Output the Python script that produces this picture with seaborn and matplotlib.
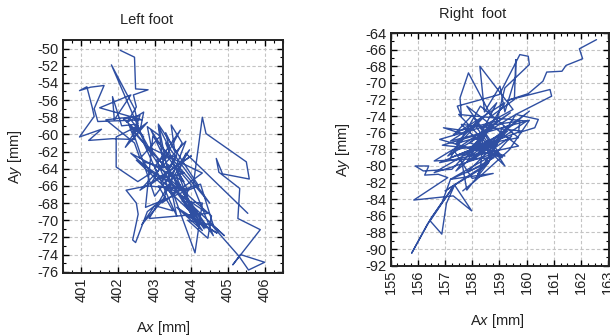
import numpy as np
import pandas as pd
import matplotlib
matplotlib.use("Agg")
import matplotlib.pyplot as plt
import seaborn as sns
from matplotlib.ticker import MultipleLocator

sns.set_theme(style="white")
plt.rcParams['font.family'] = ['Liberation Sans', 'DejaVu Sans']
plt.rcParams['axes.unicode_minus'] = False
plt.rcParams['mathtext.fontset'] = 'custom'
plt.rcParams['mathtext.rm'] = 'Liberation Sans'
plt.rcParams['mathtext.it'] = 'Liberation Sans:italic'

# ---- data: left foot trajectory ----
left_x_a = [402.06, 402.45, 402.48, 402.82, 402.42, 402.5, 402.25, 402.7, 402.6, 401.82,
            402.45, 402.55, 402.1, 401.85, 401.9, 402.35, 401.5, 402.65, 401.45, 401.35,
            401.62, 401.25, 400.95, 401.15, 401.3, 401.35, 400.95, 401.55, 401.2, 401.85,
            402.45, 402.3, 402.75, 402.55, 402.95, 402.8, 403.15, 402.6, 402.45, 401.67,
            402.3, 402.7, 402.15, 402.6, 402.4, 402.8, 402.2, 402.55]
left_y_a = [-50.2, -51.0, -54.7, -54.8, -55.4, -56.8, -58.6, -57.4, -59.6, -51.9,
            -57.0, -58.8, -59.0, -55.6, -58.3, -55.4, -56.9, -58.3, -58.5, -57.0,
            -54.3, -54.5, -54.9, -54.45, -56.9, -57.9, -60.3, -59.4, -60.7, -60.5,
            -60.6, -58.9, -61.2, -59.3, -62.4, -59.1, -60.2, -62.8, -61.0, -58.3,
            -58.0, -60.3, -58.2, -57.8, -59.9, -58.6, -61.5, -59.0]
left_x_b = [401.95, 401.95, 402.54, 402.9, 402.7, 403.25, 403.1, 403.4, 403.3, 403.55,
            403.45, 403.75, 403.2, 403.6, 403.05, 403.45, 403.35, 403.8, 403.15, 403.0,
            403.7, 402.9, 404.0, 402.6, 403.85, 403.2, 404.3, 402.85, 403.9, 402.5,
            404.1, 403.3, 404.5, 402.95, 402.75, 404.2, 403.1, 403.6, 402.7, 404.35,
            403.5, 402.4, 403.0, 403.95, 402.85, 404.45, 403.4, 402.35, 403.8, 402.9,
            403.65, 402.8]
left_y_b = [-60.3, -63.8, -65.5, -64.5, -63.2, -63.9, -59.0, -61.6, -59.8, -62.0,
            -58.9, -61.0, -65.5, -62.5, -63.0, -67.0, -63.5, -64.5, -65.2, -63.8,
            -59.5, -65.8, -62.5, -66.5, -60.8, -68.0, -64.5, -61.5, -67.0, -63.0,
            -69.5, -61.0, -68.0, -60.2, -68.5, -66.0, -58.8, -69.5, -61.0, -71.0,
            -64.8, -59.6, -67.2, -61.8, -69.8, -69.2, -66.2, -62.2, -65.5, -59.5,
            -66.3, -66.0]
left_x_c = [402.22, 402.5, 402.55, 402.4, 402.48, 402.8, 403.3, 402.65, 403.0, 403.5,
            403.1, 403.9, 403.55, 404.0, 403.75, 404.3, 404.1, 403.5, 404.25, 404.6,
            403.9, 404.45, 404.55, 403.3, 404.3, 403.6, 404.7, 403.8, 404.4, 403.7,
            404.6, 404.05, 404.3, 404.4, 405.5, 405.58, 404.85, 404.68, 404.75, 405.32,
            405.27, 405.88, 405.13, 405.34, 406.0, 405.56, 405.3, 404.5, 404.9, 403.7,
            404.2, 403.6, 403.85, 405.54]
left_y_c = [-66.5, -68.0, -69.3, -72.3, -72.6, -69.0, -67.3, -70.5, -68.3, -68.9,
            -66.0, -66.5, -63.6, -65.9, -67.8, -68.0, -73.8, -66.8, -65.8, -70.6,
            -70.0, -72.1, -69.5, -64.8, -71.2, -68.5, -71.5, -69.2, -70.9, -66.2,
            -71.8, -66.0, -58.0, -59.9, -63.2, -65.2, -64.6, -62.8, -64.4, -66.3,
            -69.8, -71.1, -75.2, -74.0, -74.9, -75.8, -74.2, -70.3, -71.8, -67.0,
            -70.8, -65.0, -62.2, -69.2]

# ---- data: right foot trajectory ----
right_x_a = [162.57, 161.94, 162.06, 161.45, 161.3, 160.74, 160.6, 160.06, 159.3, 160.86,
             160.92, 159.6, 160.43, 160.3, 159.7, 159.75, 158.4, 159.5, 158.28, 158.45,
             159.02, 159.2, 159.6, 159.6, 159.55, 158.7, 157.86, 157.55, 157.6, 157.45,
             159.0, 159.75, 160.06, 160.1, 159.2, 158.9, 157.6, 156.94, 157.7, 158.3,
             157.4, 158.5, 157.9, 158.75, 158.2, 159.3, 158.0, 158.9, 157.5, 158.6,
             159.2]
right_y_a = [-64.8, -65.9, -67.1, -67.9, -68.6, -68.7, -69.8, -71.3, -72.1, -70.8,
             -71.6, -73.8, -74.4, -75.4, -76.0, -74.6, -75.2, -73.2, -68.0, -73.5,
             -70.4, -73.5, -69.2, -67.2, -72.0, -74.0, -68.8, -71.8, -74.0, -72.8,
             -71.4, -66.6, -66.8, -67.8, -70.6, -74.6, -75.7, -75.4, -76.2, -74.3,
             -77.3, -76.3, -78.0, -75.0, -77.6, -75.8, -79.3, -77.2, -78.7, -78.5,
             -78.8]
right_x_b = [157.9, 159.4, 157.4, 159.7, 158.3, 157.2, 159.8, 157.6, 159.2, 158.0,
             157.3, 159.2, 157.8, 160.0, 157.5, 158.8, 156.9, 159.3, 158.2, 159.6,
             157.1, 158.9, 157.9, 160.1, 157.4, 158.7, 156.8, 159.1, 157.8, 159.7,
             156.8, 158.4, 156.6, 158.9, 157.2, 158.6, 157.0, 158.3]
right_y_b = [-77.2, -73.6, -78.0, -76.6, -72.8, -79.0, -75.8, -75.0, -80.0, -73.9,
             -76.3, -72.4, -79.5, -74.6, -73.8, -78.2, -77.5, -75.2, -81.0, -73.8,
             -78.8, -72.4, -78.9, -73.4, -80.6, -75.0, -76.8, -79.0, -72.8, -77.6,
             -79.6, -77.4, -80.8, -78.4, -81.6, -79.6, -83.0, -80.4]
right_x_c = [158.4, 157.2, 158.1, 158.75, 159.45, 158.3, 159.0, 157.8, 158.8,
             156.6, 157.3, 158.0, 158.77, 157.2, 156.9, 156.35, 155.77, 156.5, 157.3,
             156.45, 156.88, 157.05, 157.35, 157.98, 157.3, 155.85, 157.1, 156.75, 156.25,
             156.4, 155.9, 156.2, 157.25, 157.6, 157.8, 158.6, 159.1, 160.1, 159.35,
             158.1, 157.65]
right_y_c = [-76.0, -77.0, -75.1, -78.0, -76.4, -80.5, -76.9, -80.8, -79.0,
             -79.4, -78.0, -81.5, -80.9, -81.6, -84.3, -87.0, -90.5, -86.2, -82.5,
             -86.6, -88.2, -84.5, -82.3, -85.4, -83.6, -84.1, -81.4, -81.0, -81.1,
             -80.0, -80.0, -80.6, -80.4, -79.2, -82.9, -79.6, -75.4, -74.5, -78.1,
             -81.8, -83.0]

left_xticks = [401, 402, 403, 404, 405, 406]
left_yticks = list(range(-76, -49, 2))
right_xticks = list(range(155, 164))
right_yticks = list(range(-92, -63, 2))

LINE = '#2f4fa2'

fig = plt.figure(figsize=(6.10, 3.36), dpi=100)
fig.patch.set_facecolor('white')

axL = fig.add_axes([63/610, 1-273/336, 220/610, 233/336])
axR = fig.add_axes([390.7/610, 1-265.7/336, 218.3/610, 232.7/336])

dfL = pd.DataFrame({'x': left_x_a + left_x_b + left_x_c,
                    'y': left_y_a + left_y_b + left_y_c})
dfR = pd.DataFrame({'x': right_x_a + right_x_b + right_x_c,
                    'y': right_y_a + right_y_b + right_y_c})
sns.lineplot(data=dfL, x='x', y='y', sort=False, estimator=None, ax=axL,
             color=LINE, lw=1.0)
sns.lineplot(data=dfR, x='x', y='y', sort=False, estimator=None, ax=axR,
             color=LINE, lw=1.0)

def style(ax, xlim, ylim, xt, yt, xminor, yminor):
    ax.set_xlim(*xlim)
    ax.set_ylim(*ylim)
    ax.set_xticks(xt)
    ax.set_yticks(yt)
    ax.set_xticklabels([str(v) for v in xt], rotation=90)
    ax.set_yticklabels([str(v) for v in yt])
    ax.xaxis.set_minor_locator(MultipleLocator(xminor))
    ax.yaxis.set_minor_locator(MultipleLocator(yminor))
    ax.grid(True, which='major', color='#c4c4c4', linestyle=(0, (3, 2)), lw=0.8)
    ax.tick_params(which='both', direction='in', top=True, right=True,
                   bottom=True, left=True, color='black')
    ax.tick_params(which='major', length=4, width=1.0, labelsize=10.5, pad=3,
                   labelcolor='#222222')
    ax.tick_params(which='minor', length=2.5, width=0.8)
    for s in ax.spines.values():
        s.set_color('#222222')
        s.set_linewidth(1.4)
    ax.set_xlabel('')
    ax.set_ylabel('')
    ax.set_facecolor('white')

style(axL, (400.5, 406.5), (-76.15, -49.0), left_xticks, left_yticks, 0.25, 1)
style(axR, (155, 163.03), (-92, -64), right_xticks, right_yticks, 0.25, 1)

txt = dict(fontsize=10.5, color='#222222', ha='center', va='center')
fig.text(147/610, 1-20/336, 'Left foot', **txt)
fig.text(473/610, 1-14/336, 'Right  foot', **txt)
fig.text(15/610, 1-157/336, r'A$\it{y}$ [mm]', rotation=90, **txt)
fig.text(343/610, 1-150/336, r'A$\it{y}$ [mm]', rotation=90, **txt)
fig.text(163/610, 1-328/336, r'A$\it{x}$ [mm]', **txt)
fig.text(497/610, 1-321/336, r'A$\it{x}$ [mm]', **txt)

fig.savefig('out.png', dpi=100, facecolor='white')
